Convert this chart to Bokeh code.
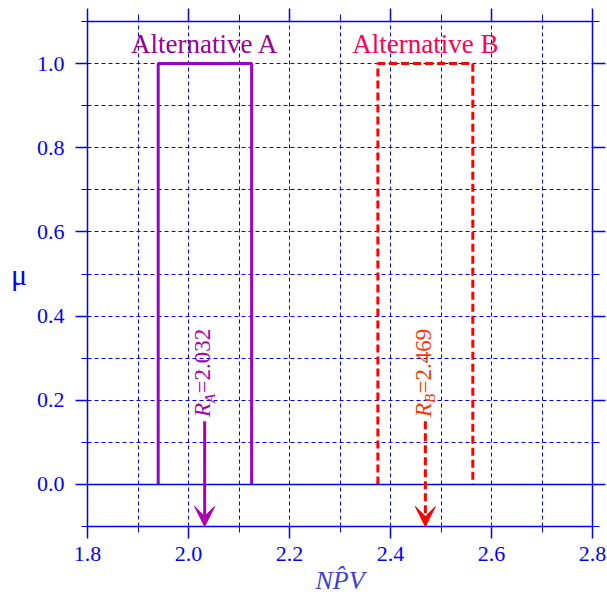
import math
from bokeh.plotting import figure
from bokeh.models import (Range1d, LinearAxis, FixedTicker, NumeralTickFormatter,
                          CustomJSTickFormatter, Span, Label, Arrow, VeeHead)
from bokeh.embed import file_html
from bokeh.resources import INLINE

# ---- data ----
alternatives = ["Alternative A", "Alternative B"]
lower = [1.94, 2.375]
upper = [2.125, 2.563]
mu_level = [1.0, 1.0]
r_names = ["A", "B"]
r_values = [2.032, 2.469]
x_lim = [1.8, 2.8]
y_lim = [-0.1, 1.1]
x_ticks = [1.8, 2.0, 2.2, 2.4, 2.6, 2.8]
x_minor = [1.9, 2.1, 2.3, 2.5, 2.7]
y_ticks = [0.0, 0.2, 0.4, 0.6, 0.8, 1.0]
y_minor = [-0.1, 0.1, 0.3, 0.5, 0.7, 0.9, 1.1]

FONT = "Liberation Serif"
BLUE = "#0000ff"
rect_colors = ["#9900cc", "#ff0000"]
rect_dash = ["solid", "8 4"]
title_colors = ["#990099", "#ff0055"]
arrow_colors = ["#aa00b0", "#ff0000"]
rtext_colors = ["#aa00b0", "#ff3300"]

p = figure(x_range=Range1d(*x_lim), y_range=Range1d(*y_lim),
           frame_width=505, frame_height=505,
           min_border_left=87, min_border_right=15, min_border_top=21, min_border_bottom=76,
           output_backend="svg", toolbar_location=None, title=None)
p.outline_line_color = None
p.background_fill_color = "white"
p.border_fill_color = "white"

xt = FixedTicker(ticks=x_ticks, minor_ticks=x_minor)
yt = FixedTicker(ticks=y_ticks, minor_ticks=y_minor)
blank = CustomJSTickFormatter(code="return ''")

def style_axis(ax, labels=True, tick_out=12, minor_out=6, standoff=8):
    ax.axis_line_color = BLUE
    ax.axis_line_width = 1.5
    ax.major_tick_line_color = BLUE
    ax.minor_tick_line_color = BLUE
    ax.major_tick_line_width = 1.5
    ax.minor_tick_line_width = 1
    ax.major_tick_in = 0
    ax.minor_tick_in = 0
    ax.major_tick_out = tick_out
    ax.minor_tick_out = minor_out
    ax.major_label_text_font = FONT
    ax.major_label_text_color = BLUE
    if labels:
        ax.major_label_text_font_size = "22px"
        ax.major_label_standoff = standoff
    else:
        ax.formatter = blank
        ax.major_label_text_font_size = "0px"
        ax.major_label_standoff = 0

xa = p.xaxis[0]
xa.ticker = xt
xa.formatter = NumeralTickFormatter(format="0.0")
style_axis(xa, standoff=8)
xa.axis_label = "NP\u0302V"
xa.axis_label_text_font = FONT
xa.axis_label_text_font_size = "26px"
xa.axis_label_text_font_style = "italic"
xa.axis_label_text_color = "#4040c8"
xa.axis_label_standoff = 2

ya = p.yaxis[0]
ya.ticker = yt
ya.formatter = NumeralTickFormatter(format="0.0")
style_axis(ya, standoff=11)
ya.axis_label = "μ"
ya.axis_label_orientation = "horizontal"
ya.axis_label_text_font = FONT
ya.axis_label_text_font_size = "30px"
ya.axis_label_text_font_style = "normal"
ya.axis_label_text_color = BLUE
ya.axis_label_standoff = 7

top = LinearAxis(ticker=xt)
style_axis(top, labels=False, tick_out=13, minor_out=7)
p.add_layout(top, "above")

right = LinearAxis(ticker=yt)
style_axis(right, labels=False, tick_out=13, minor_out=7)
p.add_layout(right, "right")

for g in (p.xgrid[0], p.ygrid[0]):
    g.grid_line_color = BLUE
    g.grid_line_dash = "4 3"
    g.grid_line_width = 1
    g.minor_grid_line_color = BLUE
    g.minor_grid_line_dash = "4 3"
    g.minor_grid_line_width = 1
p.xgrid[0].ticker = xt
p.ygrid[0].ticker = yt

p.add_layout(Span(location=0, dimension="width", line_color=BLUE, line_width=1.5))

# rectangles (membership functions)
for i in range(len(alternatives)):
    xs = [lower[i], lower[i], upper[i], upper[i]]
    ys = [0, mu_level[i], mu_level[i], 0]
    p.line(xs, ys, line_color=rect_colors[i], line_width=3, line_dash=rect_dash[i])
    p.add_layout(Label(x=(lower[i] + upper[i]) / 2, y=mu_level[i], y_offset=20,
                       text=alternatives[i], text_align="center", text_baseline="alphabetic",
                       text_font=FONT, text_font_size="27px", text_color=title_colors[i]))

# arrows with rotated R labels
arrow_top = 0.15
for i in range(len(r_values)):
    r = r_values[i]
    p.add_layout(Arrow(x_start=r, y_start=arrow_top, x_end=r, y_end=y_lim[0],
                       line_color=arrow_colors[i], line_width=3, line_dash=rect_dash[i],
                       end=VeeHead(size=20, fill_color=arrow_colors[i],
                                   line_color=arrow_colors[i], line_width=1)))
    common = dict(x=r, y=arrow_top + 0.01, angle=math.pi / 2, text_align="left",
                  text_baseline="alphabetic", text_font=FONT, text_color=rtext_colors[i])
    p.add_layout(Label(text="R", x_offset=-2, y_offset=0, text_font_size="23px",
                       text_font_style="italic", **common))
    p.add_layout(Label(text=r_names[i], x_offset=5, y_offset=14, text_font_size="15px",
                       text_font_style="italic", **common))
    p.add_layout(Label(text="=%.3f" % r, x_offset=-2, y_offset=23.5, text_font_size="23px",
                       **common))

open("out.html", "w").write(file_html(p, INLINE))
